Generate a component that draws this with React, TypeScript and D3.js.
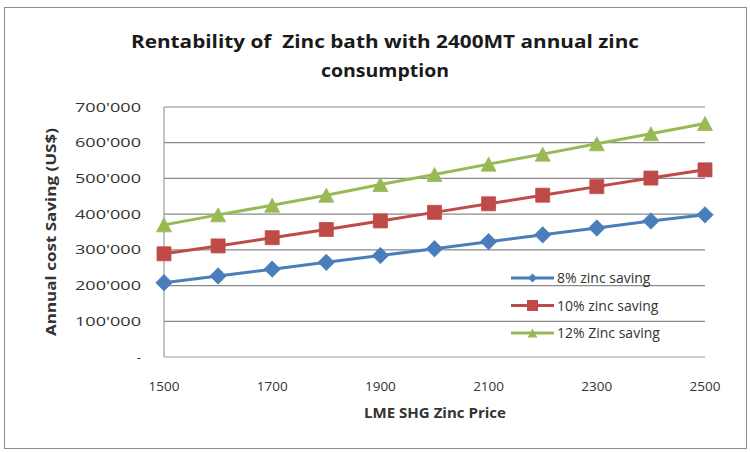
import React from "react";
import * as d3 from "d3";

const prices = [1500, 1600, 1700, 1800, 1900, 2000, 2100, 2200, 2300, 2400, 2500];
const saving8 = [208000, 227000, 246000, 265000, 284000, 303000, 323000, 342000, 361000, 381000, 398000];
const saving10 = [289000, 311000, 334000, 357000, 381000, 405000, 429000, 453000, 477000, 501000, 524000];
const saving12 = [370000, 398000, 425000, 453000, 483000, 511000, 540000, 568000, 597000, 625000, 654000];
const seriesNames = ["8% zinc saving", "10% zinc saving", "12% Zinc saving"];
const yTicks = [0, 100000, 200000, 300000, 400000, 500000, 600000, 700000];
const xTickLabels = [1500, 1700, 1900, 2100, 2300, 2500];

const W = 750;
const H = 452;
const colors = ["#4A7EBB", "#BE4B48", "#98B954"];

const loc = d3.formatLocale({ decimal: ".", thousands: "'", grouping: [3], currency: ["$", ""] });
const fmt = (v: number) => (v === 0 ? "-" : loc.format(",")(v));

// marker outlines, scaled by half-width s
function marker(k: number, s: number): string {
  if (k === 0) return `M0,${-s}L${s},0L0,${s}L${-s},0Z`;
  if (k === 1) return `M${-s},${-s}H${s}V${s}H${-s}Z`;
  return `M0,${-s}L${s * 1.07},${s}H${-s * 1.07}Z`;
}
const markerHalf = [8.2, 7, 7];
const legendHalf = [4.5, 5.5, 4.5];

export default function App() {
  const x = d3.scalePoint<number>().domain(prices).range([164, 705]).padding(0);
  const y = d3.scaleLinear().domain([0, 700000]).range([357, 107]);
  const data = [saving8, saving10, saving12];
  const line = d3
    .line<number>()
    .x((_, i) => x(prices[i]) as number)
    .y((d) => y(d));
  const font = "'Open Sans', 'DejaVu Sans', sans-serif";

  return (
    <svg width={W} height={H} style={{ position: "absolute", left: 0, top: 0 }}>
      <rect x={0} y={0} width={W} height={H} fill="#fff" />
      <rect x={4.5} y={7.5} width={742} height={441} fill="#fff" stroke="#8c8c8c" strokeWidth={1} />
      <g fontFamily={font} fontWeight="bold" fill="#1a1a1a" textAnchor="middle" fontSize={17}>
        <text x={385} y={48} textLength={508} lengthAdjust="spacingAndGlyphs" xmlSpace="preserve">
          {"Rentability of  Zinc bath with 2400MT annual zinc"}
        </text>
        <text x={385} y={77} textLength={128} lengthAdjust="spacingAndGlyphs">
          consumption
        </text>
      </g>
      {/* gridlines */}
      {yTicks.map((t) =>
        t === 0 ? null : (
          <line key={t} x1={164} x2={705} y1={y(t)} y2={y(t)} stroke="#8a8a8a" strokeWidth={1.2} />
        )
      )}
      <line x1={164} x2={164} y1={y(700000)} y2={y(0)} stroke="#9a9a9a" strokeWidth={1.2} />
      <line x1={164} x2={705} y1={y(0)} y2={y(0)} stroke="#9a9a9a" strokeWidth={1.2} />
      {/* y tick labels */}
      <g fontFamily={font} fontSize={13.5} fill="#333" textAnchor="end">
        {yTicks.map((t) => (
          <text key={t} x={141} y={y(t) + 4.5} textLength={t === 0 ? undefined : 66} lengthAdjust="spacingAndGlyphs">
            {fmt(t)}
          </text>
        ))}
      </g>
      {/* x tick labels */}
      <g fontFamily={font} fontSize={13.5} fill="#333" textAnchor="middle">
        {xTickLabels.map((t) => (
          <text key={t} x={x(t) as number} y={391}>
            {t}
          </text>
        ))}
      </g>
      <text
        x={435}
        y={418}
        fontFamily={font}
        fontSize={13.5}
        fontWeight="bold"
        fill="#333"
        textAnchor="middle"
        textLength={142}
        lengthAdjust="spacingAndGlyphs"
      >
        LME SHG Zinc Price
      </text>
      <text
        transform="translate(56,232) rotate(-90)"
        fontFamily={font}
        fontSize={13.5}
        fontWeight="bold"
        fill="#333"
        textAnchor="middle"
        textLength={208}
        lengthAdjust="spacingAndGlyphs"
      >
        Annual cost Saving (US$)
      </text>
      {/* series */}
      {data.map((s, k) => (
        <g key={k}>
          <path d={line(s) as string} fill="none" stroke={colors[k]} strokeWidth={3} />
          {s.map((v, i) => (
            <path
              key={i}
              d={marker(k, markerHalf[k])}
              transform={`translate(${x(prices[i])},${y(v)})`}
              fill={colors[k]}
              stroke={colors[k]}
              strokeWidth={0.8}
            />
          ))}
        </g>
      ))}
      {/* legend */}
      {seriesNames.map((name, k) => {
        const ly = 278 + k * 27.5;
        return (
          <g key={name}>
            <line x1={511} x2={554} y1={ly} y2={ly} stroke={colors[k]} strokeWidth={3} />
            <path d={marker(k, legendHalf[k])} transform={`translate(532.5,${ly})`} fill={colors[k]} />
            <text x={557} y={ly + 5} fontFamily={font} fontSize={14} fill="#333">
              {name}
            </text>
          </g>
        );
      })}
    </svg>
  );
}
